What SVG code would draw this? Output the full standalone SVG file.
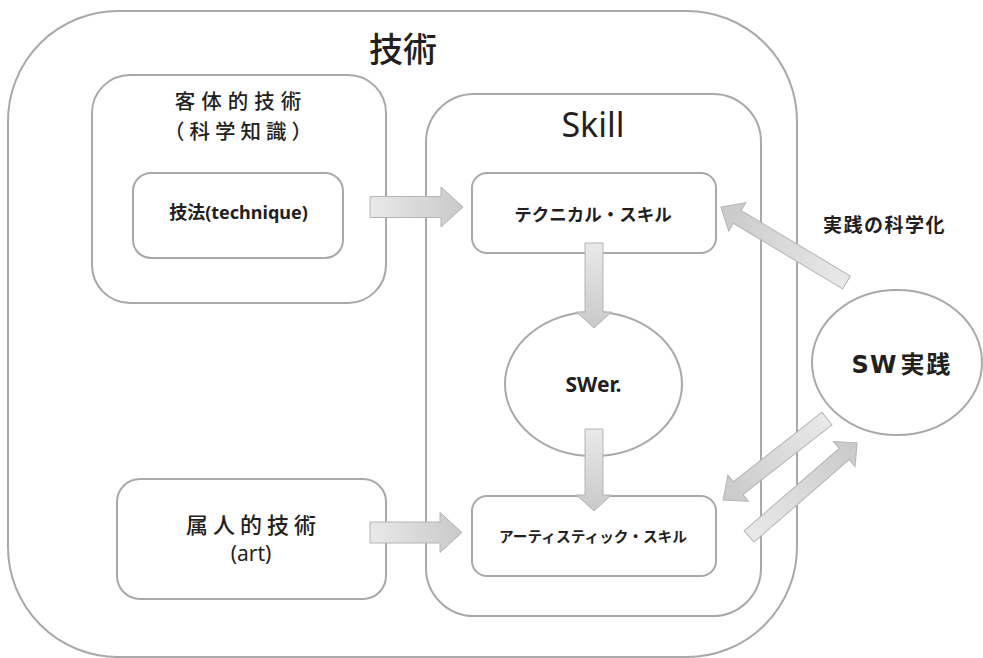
<svg xmlns="http://www.w3.org/2000/svg" width="983" height="658" viewBox="0 0 983 658">
  <style>
    .box { fill: #ffffff; stroke: #a9a9a9; stroke-width: 2; }
    .arrow { fill: url(#arrowGrad); stroke: #b4b4b4; stroke-width: 1; }
    .t { fill: #231f20; font-family: "Noto Sans", "Noto Sans CJK JP", sans-serif; text-anchor: middle; }
    .jp { font-family: "Noto Sans CJK JP", "Noto Sans", sans-serif; }
    .m { font-weight: 500; }
    .b { font-weight: bold; }
  </style>
  <defs>
    <linearGradient id="arrowGrad" x1="0" y1="0" x2="1" y2="0">
      <stop offset="0" stop-color="#e9e9e9"/>
      <stop offset="1" stop-color="#c9c9c9"/>
    </linearGradient>
  </defs>
  <rect width="983" height="658" fill="#ffffff"/>

  <g id="gijutsu">
    <rect class="box" x="8" y="11" width="789" height="646" rx="110" ry="110"/>
    <text class="t jp m" x="403" y="62" font-size="34">技術</text>
  </g>

  <g id="kyakutai">
    <rect class="box" x="92" y="75" width="294" height="228" rx="38" ry="38"/>
    <text class="t jp m" x="241" y="109" font-size="20.5" letter-spacing="6">客体的技術</text>
    <text class="t jp m" x="240.5" y="139" font-size="20.5" letter-spacing="5">（科学知識）</text>
  </g>

  <g id="gihou">
    <rect class="box" x="133" y="173" width="210" height="85" rx="18" ry="18"/>
    <text class="t b" x="238.5" y="219" font-size="18">技法(technique)</text>
  </g>

  <g id="skill">
    <rect class="box" x="426" y="94" width="335" height="522" rx="48" ry="48"/>
    <text class="t" x="593" y="137" font-size="34">Skill</text>
  </g>

  <g id="technical">
    <rect class="box" x="472" y="173" width="244" height="80" rx="15" ry="15"/>
    <text class="t jp b" x="593" y="221" font-size="17.5">テクニカル・スキル</text>
  </g>

  <g id="swer">
    <ellipse class="box" cx="593.5" cy="384" rx="88.5" ry="72"/>
    <text class="t b" x="593.5" y="392" font-size="21">SWer.</text>
  </g>

  <g id="artistic">
    <rect class="box" x="472" y="496" width="244" height="80" rx="15" ry="15"/>
    <text class="t jp b" x="593" y="542" font-size="14.7">アーティスティック・スキル</text>
  </g>

  <g id="zokujin">
    <rect class="box" x="117" y="479" width="269" height="120" rx="23" ry="23"/>
    <text class="t jp m" x="253.5" y="533" font-size="22" letter-spacing="5">属人的技術</text>
    <text class="t" x="251" y="561" font-size="21">(art)</text>
  </g>

  <g id="sw-jissen">
    <ellipse class="box" cx="897" cy="362.5" rx="85" ry="72.5"/>
    <text class="t jp b" x="902" y="373" font-size="24"><tspan font-family="DejaVu Sans, sans-serif" letter-spacing="1">SW</tspan><tspan dx="3" letter-spacing="2">実践</tspan></text>
  </g>

  <g id="connectors">
    <!-- 技法 -> テクニカル・スキル -->
    <path class="arrow" transform="translate(370,207)" d="M0,-10.5 L71,-10.5 L71,-20 L93,0 L71,20 L71,10.5 L0,10.5 Z"/>
    <!-- 属人的技術 -> アーティスティック・スキル -->
    <path class="arrow" transform="translate(370,532.5)" d="M0,-10.5 L70,-10.5 L70,-20 L92,0 L70,20 L70,10.5 L0,10.5 Z"/>
    <!-- テクニカル・スキル -> SWer. -->
    <path class="arrow" transform="translate(594,243) rotate(90)" d="M0,-9 L69,-9 L69,-17.5 L85,0 L69,17.5 L69,9 L0,9 Z"/>
    <!-- SWer. -> アーティスティック・スキル -->
    <path class="arrow" transform="translate(594,429) rotate(90)" d="M0,-9 L66,-9 L66,-17.5 L82,0 L66,17.5 L66,9 L0,9 Z"/>
    <!-- SW実践 -> テクニカル・スキル (実践の科学化) -->
    <path class="arrow" transform="translate(846.5,282.5) rotate(211)" d="M0,-7.5 L127.5,-7.5 L127.5,-16.5 L146.5,0 L127.5,16.5 L127.5,7.5 L0,7.5 Z"/>
    <!-- SW実践 -> アーティスティック・スキル -->
    <path class="arrow" transform="translate(827,418.5) rotate(141.9)" d="M0,-8 L113,-8 L113,-16.5 L132,0 L113,16.5 L113,8 L0,8 Z"/>
    <!-- アーティスティック・スキル -> SW実践 -->
    <path class="arrow" transform="translate(749,536.5) rotate(-40.9)" d="M0,-7.5 L126,-7.5 L126,-16.5 L143,0 L126,16.5 L126,7.5 L0,7.5 Z"/>
  </g>

  <g id="label-kagakuka">
    <text class="t jp b" x="884.5" y="232" font-size="19" letter-spacing="1.5">実践の科学化</text>
  </g>
</svg>
